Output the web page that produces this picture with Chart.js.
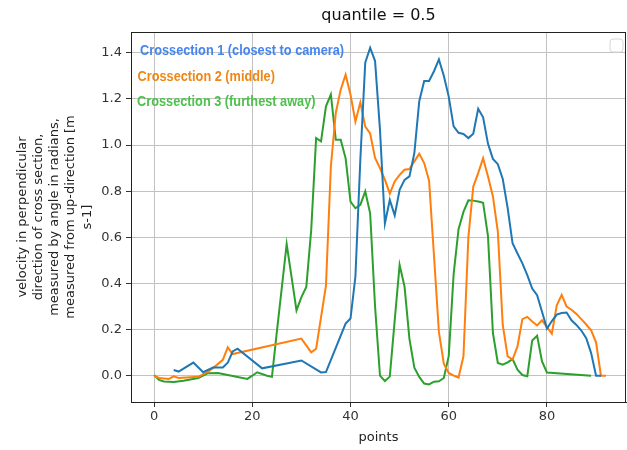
<!DOCTYPE html>
<html><head><meta charset="utf-8">
<script src="https://cdn.jsdelivr.net/npm/chart.js@4/dist/chart.umd.min.js"></script>
<style>html,body{margin:0;padding:0;background:#fff;}#wrap{width:627px;height:450px;position:relative;}</style>
</head><body><div id="wrap"><canvas id="c" width="627" height="450"></canvas></div>
<script>
const chartTitle = 'quantile = 0.5';
const xTitle = 'points';
const yTitleLines = ['velocity in perpendicular', 'direction of cross section,', 'measured by angle in radians,', 'measured from up-direction [m', 's-1]'];
const seriesNames = ['Crossection 1 (closest to camera)', 'Crossection 2 (middle)', 'Crossection 3 (furthest away)'];
const xTicks = [0, 20, 40, 60, 80];
const yTicks = [0.0, 0.2, 0.4, 0.6, 0.8, 1.0, 1.2, 1.4];

const cs1X = [4,5,8,10,12,14,15,16,17,22,30,34,35,
  39,40,41,42,43,44,45,46,47,48,49,50,51,52,53,54,55,56,57,58,59,60,61,62,63,64,65,66,67,68,69,70,71,72,73,74,75,76,77,78,79,80,81,82,83,84,85,86,87,88,89,90,91];
const cs1Y = [0.025,0.018,0.057,0.015,0.036,0.036,0.056,0.105,0.117,0.032,0.066,0.014,0.016,
  0.226,0.248,0.43,0.936,1.357,1.422,1.364,1.067,0.66,0.762,0.695,0.806,0.849,0.864,0.965,1.19,1.278,1.278,1.32,1.371,1.3,1.21,1.081,1.053,1.048,1.03,1.049,1.157,1.12,1.005,0.94,0.917,0.853,0.727,0.574,0.53,0.487,0.436,0.378,0.349,0.277,0.204,0.237,0.265,0.272,0.274,0.24,0.22,0.196,0.163,0.098,0,0];

const cs2X = [0,1,3,4,5,9,11,12,14,15,16,30,32,33,35,
  36,37,38,39,40,41,42,43,44,45,46,47,48,49,50,51,52,53,54,55,56,57,58,59,60,61,62,63,64,65,66,67,68,69,70,71,72,73,74,75,76,77,78,79,80,81,82,83,84,85,86,87,88,89,90,91,92];
const cs2Y = [0,-0.01,-0.014,-0.003,-0.01,-0.005,0.018,0.033,0.069,0.123,0.094,0.161,0.101,0.117,0.39,
  0.907,1.139,1.24,1.305,1.218,1.102,1.185,1.08,1.05,0.944,0.9,0.85,0.789,0.842,0.871,0.893,0.896,0.929,0.962,0.922,0.845,0.52,0.19,0.052,0.012,0,-0.008,0.084,0.6,0.82,0.878,0.943,0.864,0.777,0.625,0.22,0.084,0.07,0.127,0.245,0.255,0.235,0.218,0.24,0.212,0.182,0.305,0.35,0.3,0.286,0.268,0.245,0.222,0.197,0.145,0,0];

const cs3X = [0,1,2,4,6,9,11,13,15,19,20,21,23,24,
  25,26,27,28,29,30,31,32,33,34,35,36,37,38,39,40,41,42,43,44,45,46,47,48,49,50,51,52,53,54,55,56,57,58,59,60,61,62,63,64,65,66,67,68,69,70,71,72,73,74,75,76,77,78,79,80,89];
const cs3Y = [0.003,-0.018,-0.025,-0.027,-0.022,-0.01,0.011,0.012,0.003,-0.014,0,0.015,0,-0.005,
  0.19,0.38,0.571,0.427,0.283,0.341,0.385,0.632,1.03,1.016,1.168,1.219,1.023,1.023,0.943,0.755,0.726,0.741,0.799,0.704,0.3,0,-0.023,-0.004,0.24,0.48,0.387,0.16,0.035,-0.005,-0.034,-0.038,-0.026,-0.024,-0.01,0.085,0.44,0.635,0.71,0.76,0.759,0.755,0.75,0.604,0.185,0.055,0.048,0.058,0.072,0.026,0.003,-0.002,0.153,0.173,0.062,0.014,0];

const lineColors = ['#1f77b4', '#ff7f0e', '#2ca02c'];
const textColors = ['#4585f2', '#ee8716', '#4cc24a'];

function zip(xs, ys) { return xs.map((x, i) => ({x: x, y: ys[i]})); }

const decor = {
  id: 'decor',
  afterDraw(chart) {
    const {ctx, chartArea: a} = chart;
    ctx.save();
    ctx.strokeStyle = '#222';
    ctx.lineWidth = 1;
    ctx.strokeRect(a.left + 0.5, a.top + 0.5, a.right - a.left - 1, a.bottom - a.top);
    ctx.fillStyle = '#111';
    ctx.font = '16px "DejaVu Sans"';
    ctx.textAlign = 'center';
    ctx.textBaseline = 'middle';
    ctx.fillText(chartTitle, (a.left + a.right) / 2, 16);
    ctx.font = 'bold 15px "Liberation Sans", sans-serif';
    ctx.textAlign = 'left';
    const pos = [[a.left + 9, a.top + 18.5], [a.left + 6.5, a.top + 44.5], [a.left + 6, a.top + 69.5]];
    const sx = 0.85;
    seriesNames.forEach((s, i) => {
      ctx.save();
      ctx.translate(pos[i][0], pos[i][1]);
      ctx.scale(sx, 1);
      ctx.fillStyle = textColors[i];
      ctx.fillText(s, 0, 0);
      ctx.restore();
    });
    const bx = a.right - 16, by = a.top + 7, bw = 13, bh = 13, r = 3;
    ctx.beginPath();
    ctx.moveTo(bx + r, by);
    ctx.arcTo(bx + bw, by, bx + bw, by + bh, r);
    ctx.arcTo(bx + bw, by + bh, bx, by + bh, r);
    ctx.arcTo(bx, by + bh, bx, by, r);
    ctx.arcTo(bx, by, bx + bw, by, r);
    ctx.closePath();
    ctx.fillStyle = 'rgba(255,255,255,0.8)';
    ctx.fill();
    ctx.strokeStyle = '#d6d6d6';
    ctx.lineWidth = 1;
    ctx.stroke();
    ctx.restore();
  }
};

new Chart(document.getElementById('c'), {
  type: 'line',
  data: {
    datasets: [
      {label: seriesNames[0], data: zip(cs1X, cs1Y), borderColor: lineColors[0]},
      {label: seriesNames[1], data: zip(cs2X, cs2Y), borderColor: lineColors[1]},
      {label: seriesNames[2], data: zip(cs3X, cs3Y), borderColor: lineColors[2]}
    ]
  },
  options: {
    responsive: false,
    animation: false,
    devicePixelRatio: 1,
    layout: {padding: {top: 32, right: 1, left: 0, bottom: 0}},
    elements: {
      line: {borderWidth: 2, tension: 0, fill: false},
      point: {radius: 0, hoverRadius: 0}
    },
    plugins: {legend: {display: false}, title: {display: false}, tooltip: {enabled: false}},
    scales: {
      x: {
        type: 'linear', min: -4.7, max: 96.1,
        afterBuildTicks: s => { s.ticks = xTicks.map(v => ({value: v})); },
        afterFit: s => { s.height = 48; },
        grid: {color: '#c2c2c2', lineWidth: 1, tickColor: '#333', tickLength: 5, drawTicks: true},
        border: {display: true, color: '#222'},
        ticks: {color: '#333', font: {family: 'DejaVu Sans', size: 13}, padding: 2, maxRotation: 0},
        title: {display: true, text: xTitle, color: '#222', font: {family: 'DejaVu Sans', size: 13}, padding: {top: 0, bottom: 5}}
      },
      y: {
        type: 'linear', min: -0.114, max: 1.49,
        afterBuildTicks: s => { s.ticks = yTicks.map(v => ({value: v})); },
        afterFit: s => { s.width = 131; },
        grid: {color: '#c2c2c2', lineWidth: 1, tickColor: '#333', tickLength: 5, drawTicks: true},
        border: {display: true, color: '#222'},
        ticks: {color: '#333', font: {family: 'DejaVu Sans', size: 13}, padding: 4, callback: v => v.toFixed(1)},
        title: {display: true, text: yTitleLines, color: '#222', font: {family: 'DejaVu Sans', size: 13, lineHeight: 1.25}, padding: {top: 14, bottom: 0}}
      }
    }
  },
  plugins: [decor]
});
</script>
</body></html>
